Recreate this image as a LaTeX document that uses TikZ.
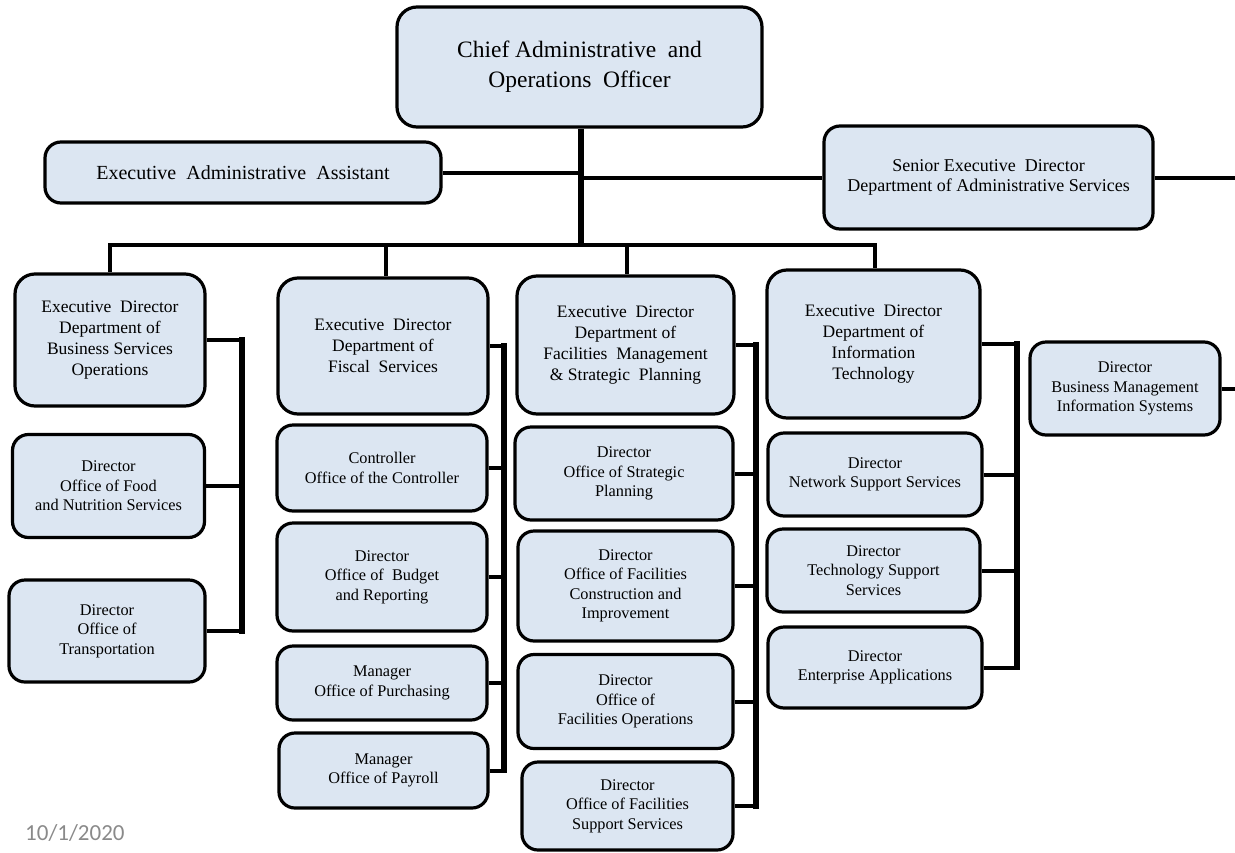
\documentclass[tikz,border=0pt]{standalone}
\usepackage{fontspec}
\setmainfont{Liberation Serif}
\newfontfamily\datefont{Carlito}
\definecolor{boxfill}{HTML}{DCE6F2}
\definecolor{dategray}{HTML}{8A8A8A}
\tikzset{
  box/.style={draw=black, line width=3.2pt, fill=boxfill, rounded corners=16pt, align=center, inner sep=2pt, text=black},
  edbox/.style={box, rounded corners=20pt, font=\fontsize{17.5}{21}\selectfont},
  subbox/.style={box, font=\fontsize{16.3}{19.5}\selectfont},
  conn/.style={line width=4pt},
  vbar/.style={line width=5.5pt, line cap=rect},
  trunk/.style={line width=6pt}
}
\begin{document}
\begin{tikzpicture}[x=1pt,y=-1pt]
\useasboundingbox (0,0) rectangle (1235,852);

% top level
\node[box, minimum width=365pt, minimum height=120pt, rounded corners=20pt, font=\fontsize{23.5}{30}\selectfont] (chief) at (579.5,67) {Chief Administrative~~and\\Operations~~Officer};
\node[box, minimum width=396pt, minimum height=61pt, font=\fontsize{20}{24}\selectfont] (eaa) at (243,172.5) {Executive~~Administrative~~Assistant};
\node[box, minimum width=329pt, minimum height=103pt, font=\fontsize{18}{20.5}\selectfont] (sed) at (988.5,177.5) {Senior Executive~~Director\\Department of Administrative Services};

% column 1
\node[edbox, minimum width=190pt, minimum height=132pt] (edbus) at (110,340) {Executive~~Director\\Department of\\Business Services\\Operations};
\node[subbox, minimum width=192pt, minimum height=103pt] (food) at (108.5,486) {Director\\Office of Food\\and Nutrition Services};
\node[subbox, minimum width=196pt, minimum height=102pt] (trans) at (107,631) {Director\\Office of\\Transportation};

% column 2
\node[edbox, minimum width=210pt, minimum height=136pt] (fisc) at (383,346) {Executive~~Director\\Department of\\Fiscal~~Services};
\node[subbox, minimum width=210pt, minimum height=86pt] (ctrl) at (382,468) {Controller\\Office of the Controller};
\node[subbox, minimum width=210pt, minimum height=108pt] (budg) at (382,577) {Director\\Office of~~Budget\\and Reporting};
\node[subbox, minimum width=210pt, minimum height=74pt] (purch) at (382,683) {Manager\\Office of Purchasing};
\node[subbox, minimum width=209pt, minimum height=75pt] (payr) at (383.5,770.5) {Manager\\Office of Payroll};

% column 3
\node[edbox, minimum width=217pt, minimum height=138pt] (fac) at (625.5,345) {Executive~~Director\\Department of\\Facilities~~Management\\\&~Strategic~~Planning};
\node[subbox, minimum width=218pt, minimum height=93pt] (strat) at (624,473.5) {Director\\Office of Strategic\\Planning};
\node[subbox, minimum width=215pt, minimum height=110pt] (constr) at (625.5,586) {Director\\Office of Facilities\\Construction and\\Improvement};
\node[subbox, minimum width=215pt, minimum height=94pt] (facops) at (625.5,701.5) {Director\\Office of\\Facilities Operations};
\node[subbox, minimum width=211pt, minimum height=88pt] (supp) at (627.5,806) {Director\\Office of Facilities\\Support Services};

% column 4
\node[edbox, minimum width=213pt, minimum height=148pt] (it) at (873.5,344) {Executive~~Director\\Department of\\Information\\Technology};
\node[subbox, minimum width=214pt, minimum height=83pt] (net) at (875,474.5) {Director\\Network Support Services};
\node[subbox, minimum width=213pt, minimum height=83pt] (tech) at (873.5,570.5) {Director\\Technology Support\\Services};
\node[subbox, minimum width=214pt, minimum height=81pt] (ent) at (875,667.5) {Director\\Enterprise Applications};

% BMIS
\node[subbox, minimum width=190pt, minimum height=93pt] (bmis) at (1125,388.5) {Director\\Business Management\\Information Systems};

% date
\node[anchor=west, inner sep=0pt, font=\datefont\fontsize{23}{26}\selectfont, text=dategray] (date) at (25,833) {10/1/2020};

% connectors: top
\coordinate (tb) at (581,245);
\coordinate (edge) at (1235,0);
\draw[trunk] (chief.south -| tb) -- (tb);
\draw[conn] (eaa.east) -- (eaa.east -| tb);
\draw[conn] (sed.west) -- (sed.west -| tb);
\draw[conn] (sed.east) -- (sed.east -| edge);

% bus
\coordinate (bl) at (110,245);
\coordinate (br) at (875,245);
\coordinate (d2) at (386,245);
\coordinate (d3) at (627,245);
\draw[conn, line join=miter] (bl |- edbus.north) -- (bl) -- (br) -- (br |- it.north);
\draw[conn] (d2) -- (d2 |- fisc.north);
\draw[conn] (d3) -- (d3 |- fac.north);

% column 1 connectors
\coordinate (v1) at (242,0);
\foreach \n in {edbus,food,trans} \draw[conn] (\n.east) -- (\n.east -| v1);
\draw[vbar] (edbus.east -| v1) -- (trans.east -| v1);

% column 2 connectors
\coordinate (v2) at (504,0);
\foreach \n in {fisc,ctrl,budg,purch,payr} \draw[conn] (\n.east) -- (\n.east -| v2);
\draw[vbar] (fisc.east -| v2) -- (payr.east -| v2);

% column 3 connectors
\coordinate (v3) at (756,0);
\foreach \n in {fac,strat,constr,facops,supp} \draw[conn] (\n.east) -- (\n.east -| v3);
\draw[vbar] (fac.east -| v3) -- (supp.east -| v3);

% column 4 connectors
\coordinate (v4) at (1017,0);
\foreach \n in {it,net,tech,ent} \draw[conn] (\n.east) -- (\n.east -| v4);
\draw[vbar] (it.east -| v4) -- (ent.east -| v4);

% BMIS connector
\draw[conn] (bmis.east) -- (bmis.east -| edge);
\end{tikzpicture}
\end{document}
